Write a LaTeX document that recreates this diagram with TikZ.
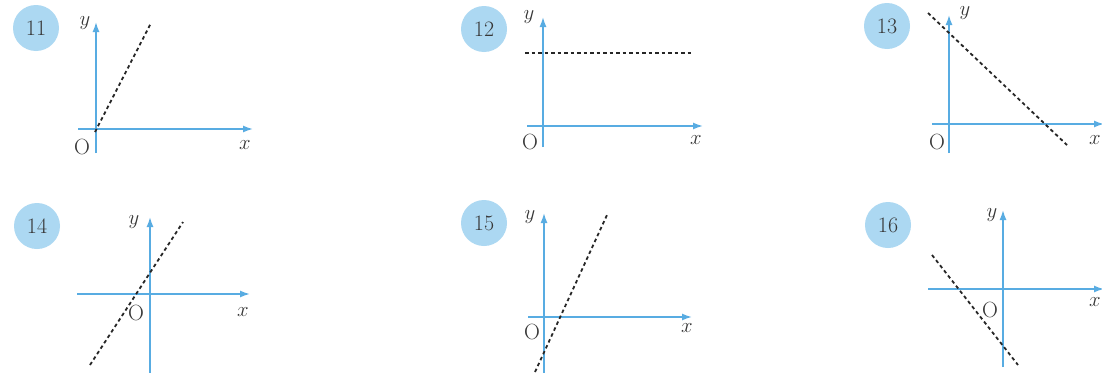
\documentclass[tikz,border=0pt]{standalone}
\usetikzlibrary{arrows.meta}
\definecolor{axisblue}{RGB}{88,172,226}
\definecolor{badge}{RGB}{172,216,242}
\definecolor{ink}{RGB}{55,55,55}
\tikzset{
  num/.style={circle, fill=badge, minimum size=46pt, inner sep=0pt, font=\fontsize{22}{26}\selectfont, text=ink},
  lbl/.style={font=\fontsize{22}{26}\selectfont, text=ink, inner sep=0pt},
  ax/.style={draw=axisblue, line width=1.6pt, -{Latex[length=10pt,width=7pt]}},
  gr/.style={draw=black!85, line width=1.8pt, dash pattern=on 3.5pt off 3pt},
}
\begin{document}
\begin{tikzpicture}[x=1pt,y=-1pt]
\useasboundingbox (0,0) rectangle (1102,372);
\fill[white] (0,0) rectangle (1102,372);
\clip (0,0) rectangle (1102,372);
% 11
\node[num] (n11) at (36,28) {11};
\coordinate (xs11) at (78,129); \coordinate (xe11) at (253,129);
\coordinate (ys11) at (96,153); \coordinate (ye11) at (96,22);
\coordinate (la11) at (95,132); \coordinate (lb11) at (151,23);
\draw[ax] (xs11) -- (xe11);
\draw[ax] (ys11) -- (ye11);
\draw[gr] (la11) -- (lb11);
\node[lbl] (y11) at (85,23) {$y$};
\node[lbl] (o11) at (82,147) {O};
\node[lbl] (x11) at (245,145) {$x$};
% 12
\node[num] (n12) at (484,29) {12};
\coordinate (xs12) at (527,126); \coordinate (xe12) at (703,126);
\coordinate (ys12) at (543,147); \coordinate (ye12) at (543,17);
\coordinate (la12) at (525,53); \coordinate (lb12) at (693,53);
\draw[ax] (xs12) -- (xe12);
\draw[ax] (ys12) -- (ye12);
\draw[gr] (la12) -- (lb12);
\node[lbl] (y12) at (529,17) {$y$};
\node[lbl] (o12) at (530,142) {O};
\node[lbl] (x12) at (696,140) {$x$};
% 13
\node[num] (n13) at (887,26) {13};
\coordinate (xs13) at (932,124); \coordinate (xe13) at (1104,124);
\coordinate (ys13) at (949,153); \coordinate (ye13) at (949,15);
\coordinate (la13) at (928,13); \coordinate (lb13) at (1067,145);
\draw[ax] (xs13) -- (xe13);
\draw[ax] (ys13) -- (ye13);
\draw[gr] (la13) -- (lb13);
\node[lbl] (y13) at (965,13) {$y$};
\node[lbl] (o13) at (937,142) {O};
\node[lbl] (x13) at (1095,140) {$x$};
% 14
\node[num] (n14) at (37,226) {14};
\coordinate (xs14) at (77,294); \coordinate (xe14) at (250,294);
\coordinate (ys14) at (150,375); \coordinate (ye14) at (150,217);
\coordinate (la14) at (90,365); \coordinate (lb14) at (183,222);
\draw[ax] (xs14) -- (xe14);
\draw[ax] (ys14) -- (ye14);
\draw[gr] (la14) -- (lb14);
\node[lbl] (y14) at (134,222) {$y$};
\node[lbl] (o14) at (136,313) {O};
\node[lbl] (x14) at (243,312) {$x$};
% 15
\node[num] (n15) at (484,223) {15};
\coordinate (xs15) at (528,317); \coordinate (xe15) at (692,317);
\coordinate (ys15) at (544,375); \coordinate (ye15) at (544,213);
\coordinate (la15) at (535,372); \coordinate (lb15) at (607,215);
\draw[ax] (xs15) -- (xe15);
\draw[ax] (ys15) -- (ye15);
\draw[gr] (la15) -- (lb15);
\node[lbl] (y15) at (530,217) {$y$};
\node[lbl] (o15) at (532,332) {O};
\node[lbl] (x15) at (687,328) {$x$};
% 16
\node[num] (n16) at (888,225) {16};
\coordinate (xs16) at (928,289); \coordinate (xe16) at (1104,289);
\coordinate (ys16) at (1003,367); \coordinate (ye16) at (1003,210);
\coordinate (la16) at (932,255); \coordinate (lb16) at (1018,365);
\draw[ax] (xs16) -- (xe16);
\draw[ax] (ys16) -- (ye16);
\draw[gr] (la16) -- (lb16);
\node[lbl] (y16) at (992,215) {$y$};
\node[lbl] (o16) at (990,310) {O};
\node[lbl] (x16) at (1095,302) {$x$};
\end{tikzpicture}
\end{document}
